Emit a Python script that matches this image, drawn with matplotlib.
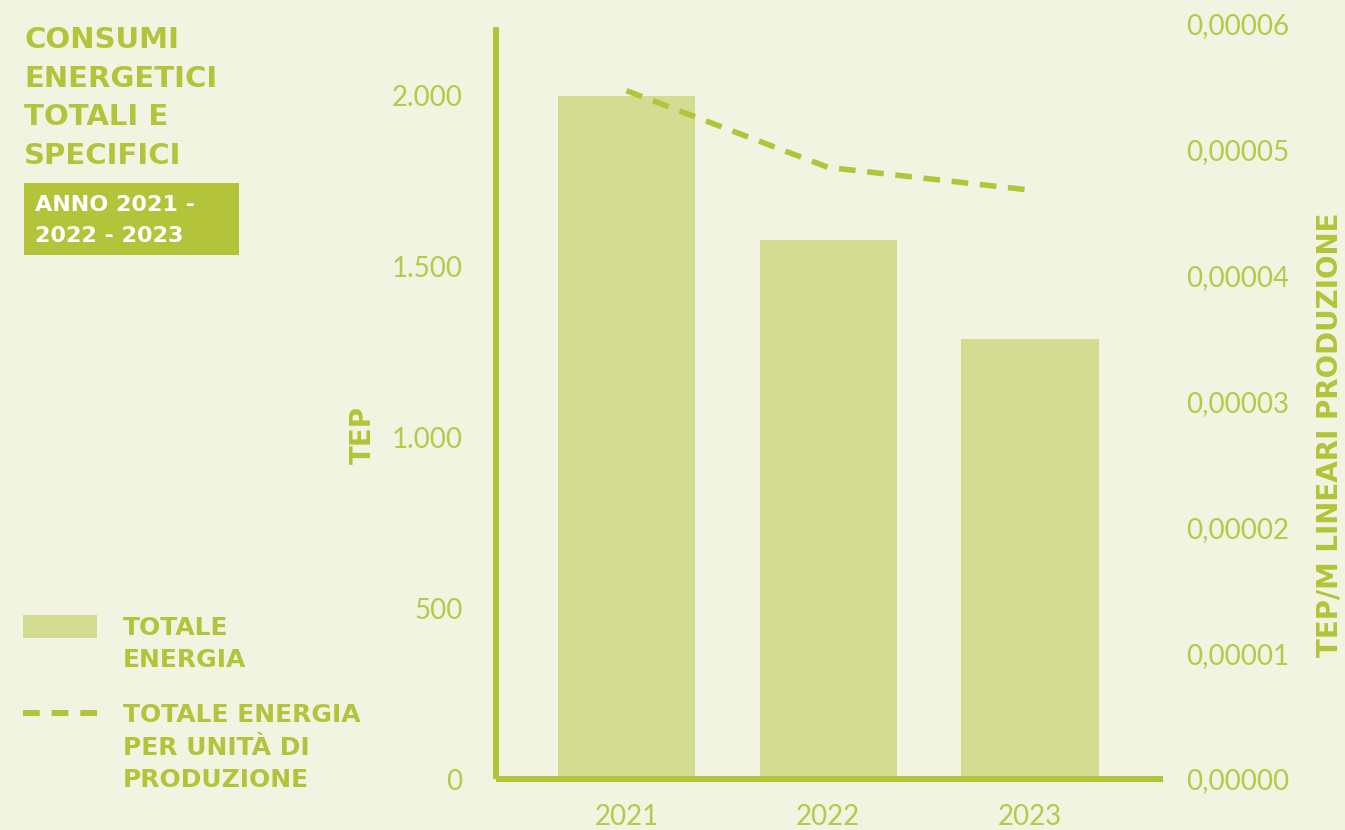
import numpy as np
import matplotlib
matplotlib.use("Agg")
import matplotlib.pyplot as plt
from matplotlib.ticker import FuncFormatter, FixedLocator
from matplotlib.patches import Rectangle
from matplotlib.lines import Line2D

# data
years = ["2021", "2022", "2023"]
totale_energia = [2000, 1578, 1288]              # TEP
energia_per_unita = [0.0000547, 0.0000486, 0.0000468]  # TEP/m lineari
left_ticks = [0, 500, 1000, 1500, 2000]
right_ticks = [0, 0.00001, 0.00002, 0.00003, 0.00004, 0.00005, 0.00006]

title_lines = ["CONSUMI", "ENERGETICI", "TOTALI E", "SPECIFICI"]
anno_lines = ["ANNO 2021 -", "2022 - 2023"]
leg_bar_lines = ["TOTALE", "ENERGIA"]
leg_line_lines = ["TOTALE ENERGIA", "PER UNITÀ DI", "PRODUZIONE"]

BG = "#F0F4E1"
GREEN = "#B3C43A"
BAR = "#D3DC91"
TICK = "#B8C848"
HEAD = ["DejaVu Sans"]  # wide bold face for the headings

W, H = 1345, 830
plt.rcParams['font.family'] = ['Lato', 'DejaVu Sans']

fig = plt.figure(figsize=(W / 100, H / 100), dpi=100)
fig.patch.set_facecolor(BG)

def fx(px):
    return px / W

def fy(py):
    return 1 - py / H

# main axes, positioned in pixels
ax = fig.add_axes([fx(496), fy(779), (1163 - 496) / W, (779 - 24) / H])
ax.set_facecolor("none")
x = np.arange(len(years))
ax.bar(x, totale_energia, width=0.68, color=BAR, zorder=1)
ax.set_xlim(-0.647, 2.659)
ax.set_ylim(0, 2210)
ax.set_xticks(x)
ax.set_xticklabels(years)
ax.yaxis.set_major_locator(FixedLocator(left_ticks))
ax.yaxis.set_major_formatter(FuncFormatter(lambda v, p: f"{int(v):,}".replace(",", ".")))
for s in ["top", "right"]:
    ax.spines[s].set_visible(False)
for s in ["left", "bottom"]:
    ax.spines[s].set_color(GREEN)
    ax.spines[s].set_linewidth(4.3)
    ax.spines[s].set_capstyle("butt")
ax.spines["left"].set_bounds(0, 2200)
ax.tick_params(axis="y", length=0, pad=24, labelsize=20, labelcolor=TICK)
ax.tick_params(axis="x", length=0, pad=18, labelsize=20, labelcolor=TICK)

# secondary axis
ax2 = ax.twinx()
ax2.set_ylim(0, 0.00006)
ax2.plot(x, energia_per_unita, color=GREEN, lw=4, linestyle=(0, (3.0, 2.1)))
ax2.yaxis.set_major_locator(FixedLocator(right_ticks))
ax2.yaxis.set_major_formatter(FuncFormatter(lambda v, p: f"{v:.5f}".replace(".", ",")))
for s in ax2.spines.values():
    s.set_visible(False)
ax2.tick_params(axis="y", length=0, pad=17, labelsize=20, labelcolor=TICK)

# axis titles
fig.text(fx(363), fy(435), "TEP", rotation=90, ha="center", va="center",
         fontsize=20, fontweight="bold", color=GREEN, family=HEAD)
fig.text(fx(1329), fy(435), "TEP/M LINEARI PRODUZIONE", rotation=90, ha="center", va="center",
         fontsize=20, fontweight="bold", color=GREEN, family=HEAD)

# title block
for i, t in enumerate(title_lines):
    fig.text(fx(24), fy(48 + i * 38.7), t, ha="left", va="baseline",
             fontsize=21, fontweight="bold", color=GREEN, family=HEAD)

fig.patches.append(Rectangle((fx(24), fy(255)), (239 - 24) / W, (255 - 183) / H,
                             transform=fig.transFigure, facecolor=GREEN, edgecolor="none"))
for i, t in enumerate(anno_lines):
    fig.text(fx(35), fy(211 + i * 31), t, ha="left", va="baseline",
             fontsize=16, fontweight="bold", color="white", family=HEAD)

# legend
fig.patches.append(Rectangle((fx(23), fy(638)), (97 - 23) / W, (638 - 615) / H,
                             transform=fig.transFigure, facecolor=BAR, edgecolor="none"))
for i, t in enumerate(leg_bar_lines):
    fig.text(fx(123), fy(635 + i * 32), t, ha="left", va="baseline",
             fontsize=18, fontweight="bold", color=GREEN, family=HEAD)

fig.lines.append(Line2D([fx(23), fx(97)], [fy(713), fy(713)], transform=fig.transFigure,
                        color=GREEN, lw=4.3, linestyle=(0, (2.8, 2.0))))
for i, t in enumerate(leg_line_lines):
    fig.text(fx(123), fy(722 + i * 32.5), t, ha="left", va="baseline",
             fontsize=18, fontweight="bold", color=GREEN, family=HEAD)

fig.savefig("out.png", dpi=100, facecolor=BG)
